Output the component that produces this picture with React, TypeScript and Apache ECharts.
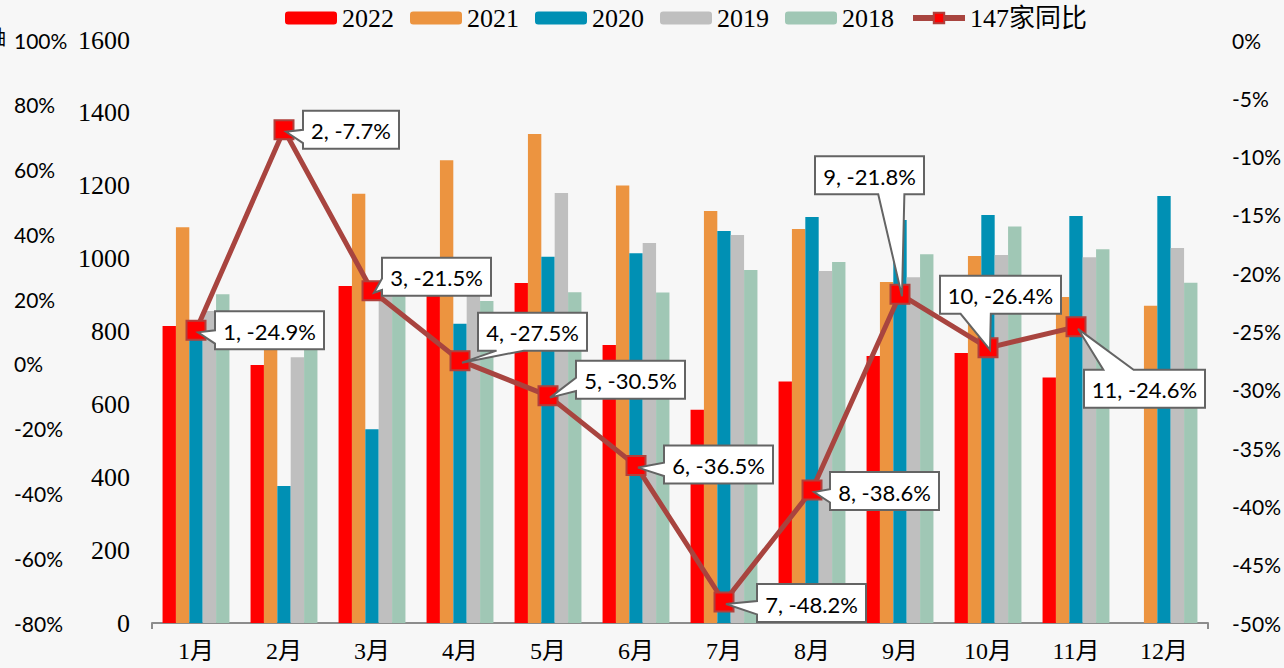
import React, { useEffect, useRef } from "react";
import * as echarts from "echarts";

const categories = ["1月", "2月", "3月", "4月", "5月", "6月", "7月", "8月", "9月", "10月", "11月", "12月"];
const s2022 = [815, 708, 925, 921, 933, 763, 585, 663, 733, 741, 674, null];
const s2021 = [1086, 767, 1178, 1270, 1342, 1201, 1131, 1081, 936, 1007, 895, 871];
const s2020 = [810, 376, 532, 821, 1005, 1015, 1076, 1114, 1106, 1120, 1117, 1172];
const s2019 = [856, 729, 915, 912, 1180, 1043, 1065, 966, 949, 1010, 1004, 1029];
const s2018 = [902, 770, 905, 884, 908, 907, 969, 991, 1012, 1088, 1026, 934];
const yoy = [-24.9, -7.7, -21.5, -27.5, -30.5, -36.5, -48.2, -38.6, -21.8, -26.4, -24.6, null];

const leftTicks = { min: 0, max: 1600, interval: 200 };
const pctTicks = { min: -80, max: 100, interval: 20 };
const rightTicks = { min: -50, max: 0, interval: 5 };

// callout layout (box offset from marker, wedge side, wedge base fractions)
const calloutLayout = [
  { dx: 19, dy: -19, side: "left", b0: 0.5, b1: 0.85 },
  { dx: 19, dy: -19, side: "left", b0: 0.5, b1: 0.85 },
  { dx: 10, dy: -33, side: "left", b0: 0.55, b1: 0.85 },
  { dx: 18, dy: -48, side: "bottom", b0: 0.17, b1: 0.42 },
  { dx: 28, dy: -35, side: "left", b0: 0.45, b1: 0.8 },
  { dx: 28, dy: -20, side: "left", b0: 0.45, b1: 0.8 },
  { dx: 33, dy: -18, side: "left", b0: 0.45, b1: 0.8 },
  { dx: 18, dy: -18, side: "left", b0: 0.45, b1: 0.8 },
  { dx: -85, dy: -138, side: "bottom", b0: 0.58, b1: 0.82 },
  { dx: -48, dy: -72, side: "bottom", b0: 0.17, b1: 0.42 },
  { dx: 8, dy: 43, side: "top", b0: 0.16, b1: 0.41 },
];

const SERIF = "'Liberation Serif', 'DejaVu Serif', 'Noto Sans CJK SC', serif";
const SANS = "Lato, 'Noto Sans', sans-serif";
const LABEL_FONT = "22px Lato";

let measureCtx: CanvasRenderingContext2D | null = null;
function measure(t: string): number {
  if (!measureCtx) {
    measureCtx = document.createElement("canvas").getContext("2d");
  }
  if (!measureCtx) return t.length * 11;
  measureCtx.font = LABEL_FONT;
  return measureCtx.measureText(t).width;
}

function calloutPoints(x0: number, y0: number, w: number, h: number, L: any, tip: number[]) {
  const TL = [x0, y0], TR = [x0 + w, y0], BR = [x0 + w, y0 + h], BL = [x0, y0 + h];
  if (L.side === "left") {
    return [TL, TR, BR, BL, [x0, y0 + h * L.b1], tip, [x0, y0 + h * L.b0]];
  }
  if (L.side === "bottom") {
    return [TL, TR, BR, [x0 + w * L.b1, y0 + h], tip, [x0 + w * L.b0, y0 + h], BL];
  }
  if (L.side === "top") {
    return [TL, [x0 + w * L.b0, y0], tip, [x0 + w * L.b1, y0], TR, BR, BL];
  }
  return [TL, TR, [x0 + w, y0 + h * L.b0], tip, [x0 + w, y0 + h * L.b1], BR, BL];
}

export default function App() {
  const ref = useRef<HTMLDivElement>(null);
  useEffect(() => {
    if (!ref.current) return;
    const chart = echarts.init(ref.current, null, { renderer: "svg" });
    const barBase = { type: "bar", barGap: "0%", barCategoryGap: "24%", yAxisIndex: 0 };
    const calloutData = yoy
      .map((v, i) => (v === null ? null : [i, v]))
      .filter((d) => d !== null);
    const option: any = {
      animation: false,
      backgroundColor: "#f7f7f7",
      grid: { left: 152, right: 76, top: 40, bottom: 45 },
      legend: {
        left: 285,
        top: 5,
        padding: 0,
        itemWidth: 52,
        itemHeight: 13,
        itemGap: 16,
        textStyle: { fontFamily: SERIF, fontSize: 26, color: "#000" },
        data: [
          "2022",
          "2021",
          "2020",
          "2019",
          "2018",
          { name: "147家同比", lineStyle: { width: 6, color: "#A8443F" } },
        ],
      },
      xAxis: {
        type: "category",
        data: categories,
        axisLine: { lineStyle: { color: "#8c8c8c", width: 2 } },
        axisTick: { show: true, interval: (i: number) => i === 0, length: 6, lineStyle: { color: "#8c8c8c", width: 2 } },
        axisLabel: { fontFamily: SERIF, fontSize: 24, color: "#000", margin: 16 },
      },
      yAxis: [
        {
          type: "value",
          position: "left",
          ...leftTicks,
          axisLine: { show: false },
          axisTick: { show: false },
          splitLine: { show: false },
          axisLabel: { formatter: (v: number) => String(v), fontFamily: SERIF, fontSize: 26, color: "#000", margin: 22 },
        },
        {
          type: "value",
          position: "left",
          offset: 0,
          ...pctTicks,
          axisLine: { show: false },
          axisTick: { show: false },
          splitLine: { show: false },
          axisLabel: { formatter: "{value}%", align: "left", margin: 138, fontFamily: SANS, fontSize: 21, color: "#000" },
        },
        {
          type: "value",
          position: "right",
          ...rightTicks,
          axisLine: { show: false },
          axisTick: { show: false },
          splitLine: { show: false },
          axisLabel: { formatter: "{value}%", margin: 24, fontFamily: SANS, fontSize: 21, color: "#000" },
        },
      ],
      graphic: [
        { type: "text", x: -14, y: 26, style: { text: "轴", font: "20px 'Noto Sans CJK SC'", fill: "#000" } },
      ],
      series: [
        { ...barBase, name: "2022", data: s2022, itemStyle: { color: "#FF0000" } },
        { ...barBase, name: "2021", data: s2021, itemStyle: { color: "#EC9440" } },
        { ...barBase, name: "2020", data: s2020, itemStyle: { color: "#0090B4" } },
        { ...barBase, name: "2019", data: s2019, itemStyle: { color: "#BFBFBF" } },
        { ...barBase, name: "2018", data: s2018, itemStyle: { color: "#A0C7B5" } },
        {
          type: "line",
          name: "147家同比",
          yAxisIndex: 2,
          data: yoy,
          symbol: "rect",
          symbolSize: 19,
          z: 5,
          lineStyle: { color: "#A8443F", width: 5 },
          itemStyle: { color: "#FF0000", borderColor: "#B0403C", borderWidth: 2 },
        },
        {
          type: "custom",
          name: "callouts",
          yAxisIndex: 2,
          z: 6,
          data: calloutData,
          encode: { x: 0, y: 1 },
          renderItem: (params: any, api: any) => {
            const idx = api.value(0);
            const v = api.value(1);
            const pt = api.coord([idx, v]);
            const L = calloutLayout[idx];
            const text = `${idx + 1}, ${Number(v).toFixed(1)}%`;
            const w = Math.round(measure(text)) + 16;
            const h = 38;
            const x0 = pt[0] + L.dx;
            const y0 = pt[1] + L.dy;
            const pts = calloutPoints(x0, y0, w, h, L, [pt[0] + 2, pt[1] + 2]);
            return {
              type: "group",
              children: [
                {
                  type: "polygon",
                  shape: { points: pts },
                  style: { fill: "#ffffff", stroke: "#646464", lineWidth: 2 },
                },
                {
                  type: "text",
                  x: x0 + w / 2,
                  y: y0 + h / 2 + 1,
                  style: {
                    text,
                    font: LABEL_FONT,
                    fill: "#000",
                    textAlign: "center",
                    textVerticalAlign: "middle",
                    verticalAlign: "middle",
                  },
                },
              ],
            };
          },
        },
      ],
    };
    chart.setOption(option);
    return () => chart.dispose();
  }, []);
  return (
    <div
      ref={ref}
      style={{ position: "fixed", left: 0, top: 0, width: 1284, height: 668, background: "#f7f7f7" }}
    />
  );
}
